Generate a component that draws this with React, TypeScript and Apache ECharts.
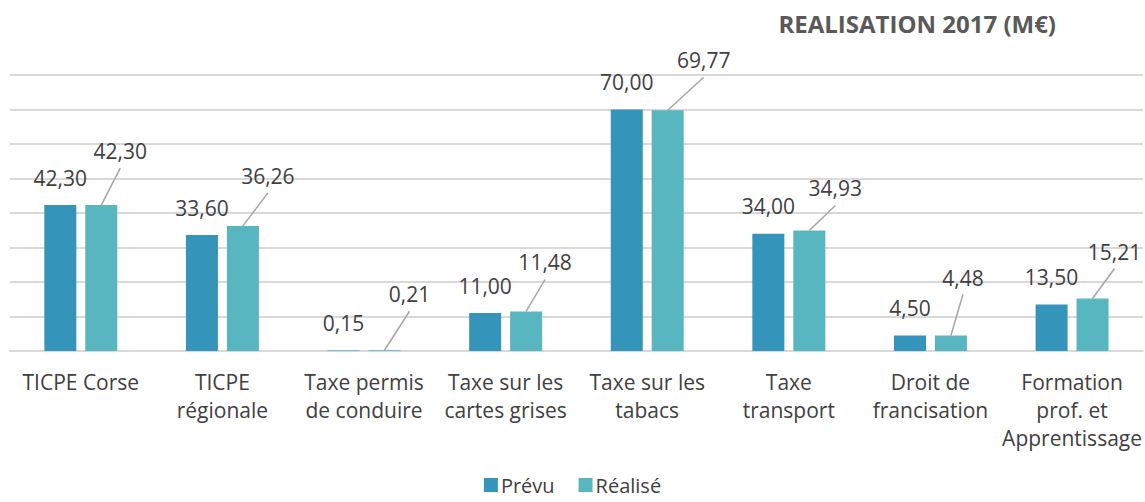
import React, { useEffect, useRef } from "react";
import * as echarts from "echarts";

const categories = [
  "TICPE Corse",
  "TICPE\nrégionale",
  "Taxe permis\nde conduire",
  "Taxe sur les\ncartes grises",
  "Taxe sur les\ntabacs",
  "Taxe\ntransport",
  "Droit de\nfrancisation",
  "Formation\nprof. et\nApprentissage",
];
const prevu = [42.3, 33.6, 0.15, 11.0, 70.0, 34.0, 4.5, 13.5];
const realise = [42.3, 36.26, 0.21, 11.48, 69.77, 34.93, 4.48, 15.21];
const yTicks = { min: 0, max: 80, interval: 10 };
// manual placement of the "Réalisé" labels (px offset from bar top centre)
const realiseLabelShift = [
  [19, -54],
  [25, -50],
  [25, -56],
  [19, -49],
  [36, -50],
  [26, -42],
  [12, -58],
  [22, -47],
];

const fmt = (v: number) => v.toFixed(2).replace(".", ",");
const FONT = "'Open Sans', 'DejaVu Sans', sans-serif";
const BAR_W = 32;
const BAR_GAP = 0.28;

export default function App() {
  const ref = useRef<HTMLDivElement>(null);
  useEffect(() => {
    document.body.style.margin = "0";
    if (!ref.current) return;
    const chart = echarts.init(ref.current, undefined, { renderer: "svg" });
    const half = (BAR_W + BAR_W * BAR_GAP) / 2;
    chart.setOption({
      animation: false,
      title: {
        text: "REALISATION 2017 (M€)",
        right: 84,
        top: 6,
        textStyle: { fontFamily: FONT, fontSize: 24, fontWeight: "bold", color: "#595959" },
      },
      legend: {
        left: "center",
        top: 472,
        padding: 2,
        itemWidth: 14,
        itemHeight: 14,
        itemGap: 24,
        icon: "rect",
        textStyle: {
          fontFamily: FONT,
          fontSize: 20,
          lineHeight: 22,
          color: "#404040",
          padding: [0, 0, 0, -2],
        },
        data: ["Prévu", "Réalisé"],
      },
      grid: { left: 10, right: 2, top: 75, bottom: 151, containLabel: false },
      xAxis: {
        type: "category",
        data: categories,
        axisTick: { show: false },
        axisLine: { lineStyle: { color: "#d9d9d9", width: 2 } },
        axisLabel: {
          interval: 0,
          margin: 17,
          fontFamily: FONT,
          fontSize: 21,
          lineHeight: 28,
          color: "#404040",
        },
      },
      yAxis: {
        type: "value",
        ...yTicks,
        axisLabel: { show: false },
        axisLine: { show: false },
        axisTick: { show: false },
        splitLine: { lineStyle: { color: "#d9d9d9", width: 2 } },
      },
      series: [
        {
          name: "Prévu",
          type: "bar",
          data: prevu,
          barWidth: BAR_W,
          barGap: BAR_GAP * 100 + "%",
          itemStyle: { color: "#3494BA" },
          label: {
            show: true,
            position: "top",
            distance: 17,
            fontFamily: FONT,
            fontSize: 21,
            color: "#404040",
            formatter: (p: any) => fmt(p.value),
          },
        },
        {
          name: "Réalisé",
          type: "bar",
          data: realise,
          barWidth: BAR_W,
          itemStyle: { color: "#58B6C0" },
        },
        {
          name: "RéaliséLabels",
          type: "custom",
          z: 5,
          silent: true,
          data: realise.map((v, i) => [i, v]),
          renderItem: (params: any, api: any) => {
            const i = params.dataIndex;
            const p = api.coord([api.value(0), api.value(1)]);
            const x = p[0] + half;
            const y = p[1];
            const [dx, dy] = realiseLabelShift[i];
            return {
              type: "group",
              children: [
                {
                  type: "line",
                  shape: { x1: x, y1: y, x2: x + dx, y2: y + dy + 17 },
                  style: { stroke: "#a6a6a6", lineWidth: 1.5 },
                },
                {
                  type: "text",
                  x: x + dx,
                  y: y + dy,
                  style: {
                    text: fmt(api.value(1)),
                    fontFamily: FONT,
                    fontSize: 21,
                    fill: "#404040",
                    align: "center",
                    verticalAlign: "middle",
                  },
                },
              ],
            };
          },
        },
      ],
    });
    return () => chart.dispose();
  }, []);
  return <div ref={ref} style={{ width: 1145, height: 502 }} />;
}
